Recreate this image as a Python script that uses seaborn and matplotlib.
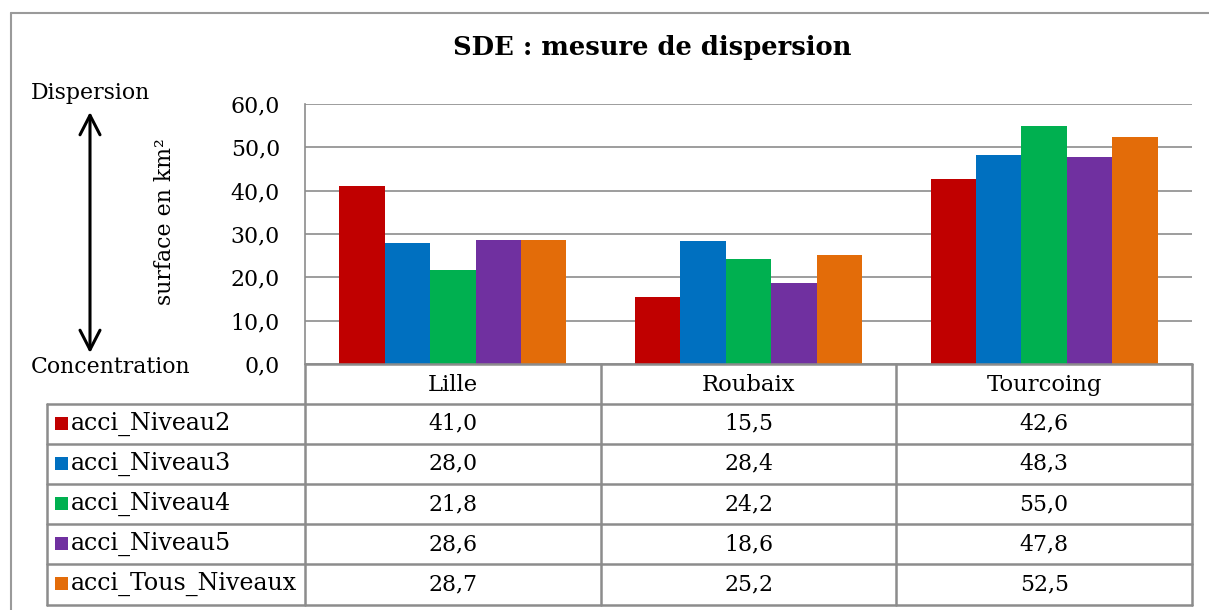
import matplotlib
matplotlib.use("Agg")
import matplotlib.pyplot as plt
from matplotlib.ticker import FuncFormatter, MultipleLocator
import seaborn as sns
import pandas as pd

# Data
villes = ["Lille", "Roubaix", "Tourcoing"]
series = ["acci_Niveau2", "acci_Niveau3", "acci_Niveau4", "acci_Niveau5", "acci_Tous_Niveaux"]
niveau2 = [41.0, 15.5, 42.6]
niveau3 = [28.0, 28.4, 48.3]
niveau4 = [21.8, 24.2, 55.0]
niveau5 = [28.6, 18.6, 47.8]
tous_niveaux = [28.7, 25.2, 52.5]
couleurs = ["#C00000", "#0070C0", "#00B050", "#7030A0", "#E36C09"]

valeurs = [niveau2, niveau3, niveau4, niveau5, tous_niveaux]
df = pd.DataFrame(
    [(v, s, x) for s, vals in zip(series, valeurs) for v, x in zip(villes, vals)],
    columns=["ville", "serie", "valeur"],
)

W, H = 1209, 610
GRID = "#8c8c8c"
FONT = "DejaVu Serif"
FS = 15.8

sns.set_theme(style="white")
plt.rcParams["font.family"] = [FONT, "DejaVu Sans"]
plt.rcParams["text.color"] = "black"
plt.rcParams["ytick.color"] = "black"

fig = plt.figure(figsize=(W / 100, H / 100), dpi=100)

# Plot area in pixel coordinates
px_l, px_r, px_t, px_b = 305, 1192, 104, 364
ax = fig.add_axes([px_l / W, 1 - px_b / H, (px_r - px_l) / W, (px_b - px_t) / H])

sns.barplot(
    data=df, x="ville", y="valeur", hue="serie", hue_order=series, order=villes,
    palette=couleurs, saturation=1, width=0.768, gap=0, linewidth=0,
    legend=False, errorbar=None, ax=ax,
)
ax.set_xlim(-0.5, len(villes) - 0.5)
ax.set_ylim(0, 60)
ax.yaxis.set_major_locator(MultipleLocator(10))
ax.yaxis.set_major_formatter(FuncFormatter(lambda v, p: f"{v:.1f}".replace(".", ",")))
ax.grid(axis="y", color=GRID, linewidth=1.2)
ax.set_axisbelow(True)
ax.set_xticks([])
ax.set_xlabel("")
ax.set_ylabel("")
ax.tick_params(axis="y", length=0, pad=18, labelsize=FS, labelcolor="black")
for lab in ax.get_yticklabels():
    lab.set_fontfamily(FONT)
for side in ["top", "right", "bottom"]:
    ax.spines[side].set_visible(False)
ax.spines["left"].set_color(GRID)
ax.spines["left"].set_linewidth(1.2)

# Overlay in pixel coordinates for frame and annotations
ov = fig.add_axes([0, 0, 1, 1], zorder=-1)
ov.set_xlim(0, W)
ov.set_ylim(H, 0)
ov.axis("off")
ov.patch.set_alpha(0)

# Outer frame
ov.plot([11, W], [13, 13], color="#9a9a9a", lw=1.5)
ov.plot([11, 11], [13, H], color="#9a9a9a", lw=1.5)

# Title
fig.text(652 / W, 1 - 47 / H, "SDE : mesure de dispersion", ha="center", va="center",
         fontsize=18.6, fontweight="bold", family=FONT, color="black")

# Axis label and dispersion arrow
fig.text(165 / W, 1 - 222 / H, "surface en km²", rotation=90, ha="center", va="center",
         fontsize=FS, family=FONT, color="black")
fig.text(31 / W, 1 - 93 / H, "Dispersion", ha="left", va="center", fontsize=FS,
         family=FONT, color="black")
fig.text(31 / W, 1 - 367 / H, "Concentration", ha="left", va="center", fontsize=FS,
         family=FONT, color="black")
ov.annotate("", xy=(90, 112), xytext=(90, 353),
            arrowprops=dict(arrowstyle="<->,head_length=0.7,head_width=0.36",
                            mutation_scale=20, lw=2.2, color="black",
                            shrinkA=0, shrinkB=0))

# Data table
tab = fig.add_axes([0, 0, 1, 1])
tab.set_xlim(0, W)
tab.set_ylim(H, 0)
tab.axis("off")
tab.patch.set_alpha(0)

col_w = (px_r - px_l) / len(villes)
col_edges = [px_l + i * col_w for i in range(len(villes) + 1)]
row_h = 40.2
head_top, head_bot = px_b, 403.5
row_edges = [head_bot + i * row_h for i in range(len(series) + 1)]
tleft = 47
LW = 1.8

# header row
tab.plot([px_l, px_r], [head_top, head_top], color=GRID, lw=LW)
for x in col_edges:
    tab.plot([x, x], [head_top, row_edges[-1]], color=GRID, lw=LW)
for i, v in enumerate(villes):
    tab.text((col_edges[i] + col_edges[i + 1]) / 2, (head_top + head_bot) / 2 + 1, v,
             ha="center", va="center", fontsize=FS + 0.6, family=FONT, color="black")
# body rows
for y in row_edges:
    tab.plot([tleft, px_r], [y, y], color=GRID, lw=LW)
tab.plot([tleft, tleft], [row_edges[0], row_edges[-1]], color=GRID, lw=LW)
for j, (s, vals, c) in enumerate(zip(series, valeurs, couleurs)):
    yc = (row_edges[j] + row_edges[j + 1]) / 2
    tab.add_patch(plt.Rectangle((55, yc - 7), 13, 13, color=c, lw=0))
    tab.text(71, yc, s, ha="left", va="center", fontsize=FS + 1.3, family=FONT,
             color="black")
    for i, v in enumerate(vals):
        tab.text((col_edges[i] + col_edges[i + 1]) / 2, yc, f"{v:.1f}".replace(".", ","),
                 ha="center", va="center", fontsize=FS, family=FONT, color="black")

fig.savefig("out.png", dpi=100, facecolor="white")
